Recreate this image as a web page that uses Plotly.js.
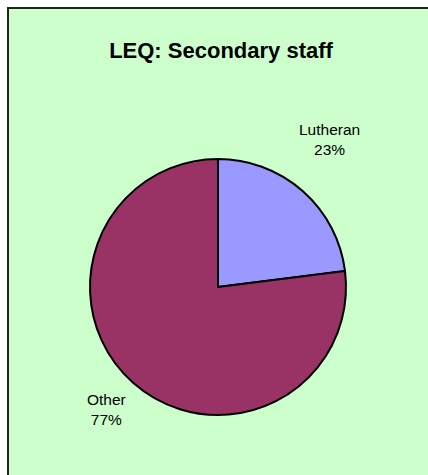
<!DOCTYPE html>
<html>
<head>
<meta charset="utf-8">
<script src="https://cdn.plot.ly/plotly-3.0.1.min.js"></script>
<style>html,body{margin:0;padding:0;background:#fff;}#chart{width:428px;height:475px;}</style>
</head>
<body>
<div id="chart"></div>
<script>
// Data
const categories = ['Lutheran', 'Other'];
const values = [23, 77];
const sliceColors = ['#9999FF', '#993366'];
const chartTitle = 'LEQ: Secondary staff';

// Layout constants
const W = 428, H = 475;
const pieCx = 218, pieCy = 287, pieR = 128;
const labelDist = [1.45, 1.3];
const labelShift = [[-11, 8], [-1, 2]];

const domX = [(pieCx - pieR) / W, (pieCx + pieR) / W];
const domY = [1 - (pieCy + pieR) / H, 1 - (pieCy - pieR) / H];

const total = values.reduce((a, b) => a + b, 0);
let cum = 0;
const annotations = categories.map((c, i) => {
  const frac = values[i] / total;
  const mid = (cum + frac / 2) * 2 * Math.PI;
  cum += frac;
  const dx = Math.sin(mid) * pieR * labelDist[i];
  const dy = Math.cos(mid) * pieR * labelDist[i];
  return {
    xref: 'paper', yref: 'paper',
    x: (pieCx + dx) / W,
    y: 1 - (pieCy - dy) / H,
    xshift: labelShift[i][0], yshift: labelShift[i][1],
    xanchor: 'center', yanchor: 'middle',
    text: c + '<br>' + Math.round(frac * 100) + '%',
    showarrow: false,
    font: {family: 'Liberation Sans, Arial, sans-serif', size: 15.5, color: '#000'}
  };
});

const trace = {
  type: 'pie',
  labels: categories,
  values: values,
  sort: false,
  direction: 'clockwise',
  rotation: 0,
  textinfo: 'none',
  hoverinfo: 'label+percent',
  marker: {colors: sliceColors, line: {color: '#000', width: 2}},
  domain: {x: domX, y: domY},
  showlegend: false
};

const layout = {
  width: W, height: H,
  margin: {l: 0, r: 0, t: 0, b: 0},
  paper_bgcolor: '#ffffff',
  showlegend: false,
  title: {
    text: '<b>' + chartTitle + '</b>',
    x: 221 / W, xanchor: 'center',
    y: 1 - 50 / H, yanchor: 'middle',
    font: {family: 'Liberation Sans, Arial, sans-serif', size: 22, color: '#000'}
  },
  shapes: [{
    type: 'rect', xref: 'paper', yref: 'paper', layer: 'below',
    x0: 8 / W, x1: 1.05, y0: -0.05, y1: 1 - 8 / H,
    line: {color: '#222', width: 2},
    fillcolor: '#CCFFCC'
  }],
  annotations: annotations
};

Plotly.newPlot('chart', [trace], layout, {displayModeBar: false, staticPlot: true});
</script>
</body>
</html>
